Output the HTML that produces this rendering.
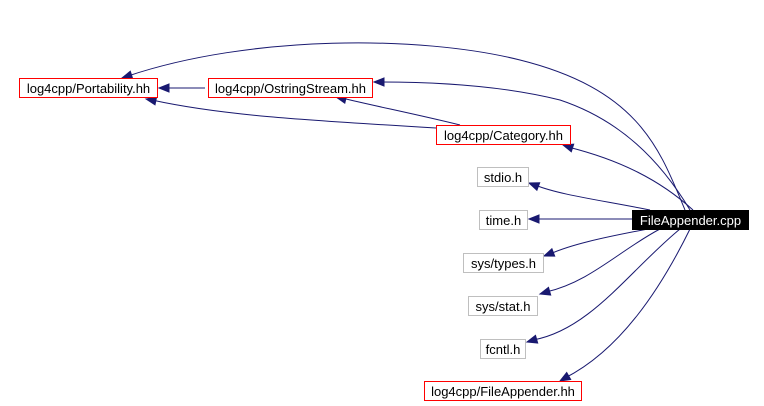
<!DOCTYPE html>
<html><head><meta charset="utf-8"><style>
html,body{margin:0;padding:0;background:#fff;width:764px;height:406px;overflow:hidden}
svg text{font-family:"Liberation Sans",sans-serif;font-size:13px}
</style></head><body>
<svg width="764" height="406" xmlns="http://www.w3.org/2000/svg">
<g fill="none" stroke="#191970" stroke-width="1">
<path d="M685,210 C660,150 640,90 520,60 C420,35 250,35 128,76"/>
<path d="M690,210 C660,160 620,120 560,100 C500,85 430,82 380,82"/>
<path d="M693,210 C660,180 620,160 568,147"/>
<path d="M205,88 L165,88"/>
<path d="M436,128 C300,120 220,115 152,100"/>
<path d="M460,125 C420,115 370,105 342,98"/>
<path d="M650,210 C600,200 560,195 535,185"/>
<path d="M632,219 L535,219"/>
<path d="M648,229 C600,238 570,245 550,254"/>
<path d="M660,229 C620,250 590,282 546,292"/>
<path d="M680,229 C630,270 590,330 533,340"/>
<path d="M690,229 C660,290 620,350 565,378"/>
</g>
<g fill="#191970" stroke="#191970" stroke-width="1">
<polygon points="122,78 132.7,78.8 130.3,71.2"/>
<polygon points="374,82 384,78 384,86"/>
<polygon points="563,145 571.3,151.8 573.7,144.2"/>
<polygon points="159,88 169,84 169,92"/>
<polygon points="146,99 155,104.8 156.6,97"/>
<polygon points="336,97 344.8,103.2 346.6,95.4"/>
<polygon points="529,183 536.9,190.2 539.7,182.8"/>
<polygon points="529,219 539,215 539,223"/>
<polygon points="544,256 554.7,256.1 551.9,248.7"/>
<polygon points="540,294 550.7,295 548.5,287.4"/>
<polygon points="527,342 537.7,343 535.5,335.4"/>
<polygon points="560,381 570.7,379.5 566.7,372.5"/>
</g>
<g stroke-width="1">
<rect x="19.5" y="78.5" width="138" height="19" fill="#fff" stroke="#f00"/>
<rect x="208.5" y="78.5" width="164" height="19" fill="#fff" stroke="#f00"/>
<rect x="436.5" y="125.5" width="134" height="19" fill="#fff" stroke="#f00"/>
<rect x="477.5" y="167.5" width="51" height="19" fill="#fff" stroke="#bfbfbf"/>
<rect x="479.5" y="210.5" width="48" height="19" fill="#fff" stroke="#bfbfbf"/>
<rect x="632" y="210" width="117" height="20" fill="#000"/>
<rect x="463.5" y="253.5" width="80" height="19" fill="#fff" stroke="#bfbfbf"/>
<rect x="468.5" y="296.5" width="69" height="19" fill="#fff" stroke="#bfbfbf"/>
<rect x="480.5" y="339.5" width="45" height="19" fill="#fff" stroke="#bfbfbf"/>
<rect x="424.5" y="381.5" width="157" height="19" fill="#fff" stroke="#f00"/>
</g>
<g text-anchor="middle">
<text x="88.5" y="93">log4cpp/Portability.hh</text>
<text x="290.5" y="93">log4cpp/OstringStream.hh</text>
<text x="503.5" y="140">log4cpp/Category.hh</text>
<text x="503" y="182">stdio.h</text>
<text x="503.5" y="225">time.h</text>
<text x="690.5" y="225" fill="#fff">FileAppender.cpp</text>
<text x="503.5" y="268">sys/types.h</text>
<text x="503" y="311">sys/stat.h</text>
<text x="503" y="354">fcntl.h</text>
<text x="503" y="396">log4cpp/FileAppender.hh</text>
</g>
</svg>
</body></html>
